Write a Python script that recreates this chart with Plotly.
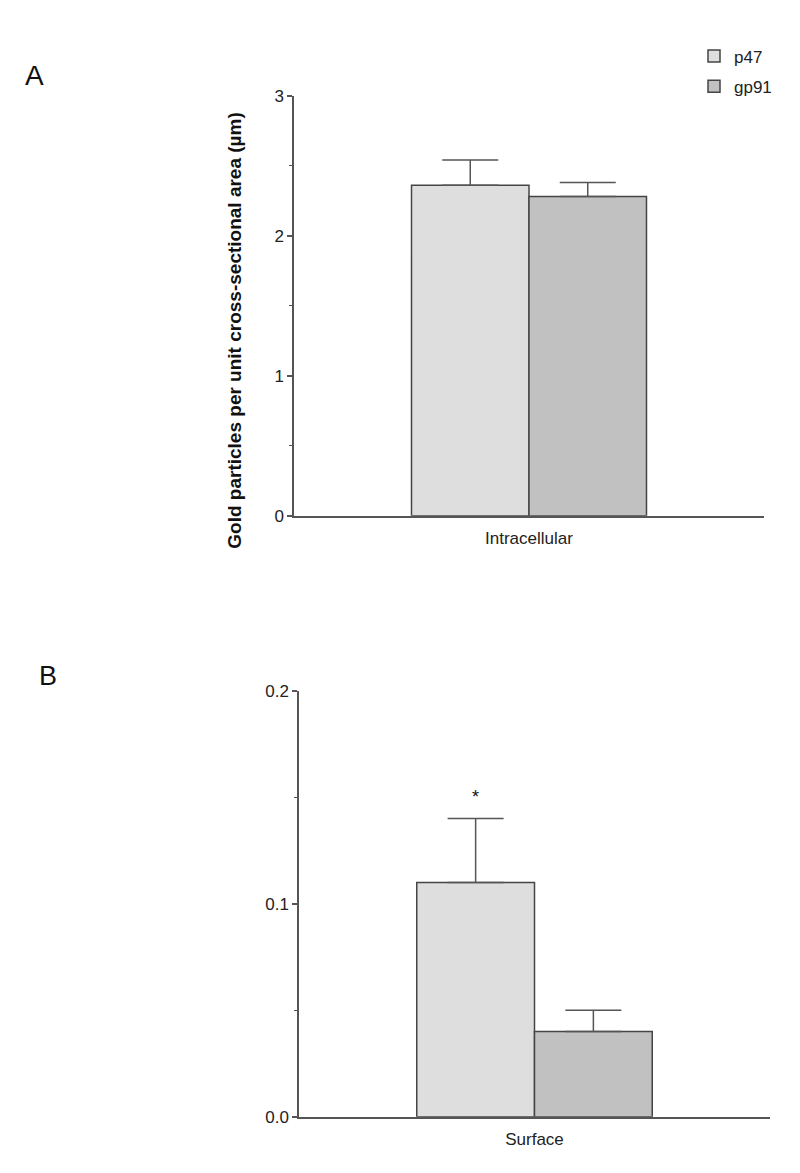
import plotly.graph_objects as go

# panel A - intracellular
cat_a = ["Intracellular"]
p47_a = [2.36]
p47_a_err = [0.18]
gp91_a = [2.28]
gp91_a_err = [0.10]

# panel B - surface
cat_b = ["Surface"]
p47_b = [0.110]
p47_b_err = [0.030]
gp91_b = [0.040]
gp91_b_err = [0.010]

W, H = 800, 1173
col_p47 = "#dedede"
col_gp91 = "#c1c1c1"
edge = "#454545"
axcol = "#555555"


def px_x(v):
    return v / W


def px_y(v):
    return 1 - v / H


fig = go.Figure()

def add_bars(cats, vals, errs, name, color, xa, ya, show):
    fig.add_trace(go.Bar(
        x=cats, y=vals, name=name, legendgroup=name,
        marker=dict(color=color, line=dict(color=edge, width=1.5)),
        error_y=dict(type="data", array=errs, symmetric=False, arrayminus=[0] * len(errs),
                     color="#555555", thickness=1.5, width=28),
        xaxis=xa, yaxis=ya, showlegend=show,
    ))

add_bars(cat_a, p47_a, p47_a_err, "p47", col_p47, "x", "y", True)
add_bars(cat_a, gp91_a, gp91_a_err, "gp91", col_gp91, "x", "y", True)
add_bars(cat_b, p47_b, p47_b_err, "p47", col_p47, "x2", "y2", False)
add_bars(cat_b, gp91_b, gp91_b_err, "gp91", col_gp91, "x2", "y2", False)

font = "Liberation Sans, Arial, sans-serif"

xcommon = dict(type="category", range=[-0.5, 0.5], showline=True, linecolor=axcol, linewidth=1.5,
               ticks="", showgrid=False, zeroline=False, tickfont=dict(size=17, color="#222"),
               ticklabelstandoff=6)
ycommon = dict(showline=True, linecolor=axcol, linewidth=1.5, ticks="outside", ticklen=5,
               tickwidth=1.5, tickcolor=axcol, showgrid=False, zeroline=False,
               tickfont=dict(size=17, color="#222"))

fig.update_layout(
    width=W, height=H,
    margin=dict(l=0, r=0, t=0, b=0),
    paper_bgcolor="white", plot_bgcolor="white",
    font=dict(family=font, color="#222"),
    barmode="group", bargap=0.5, bargroupgap=0,
    xaxis=dict(xcommon, domain=[px_x(294), px_x(764)], anchor="y"),
    yaxis=dict(ycommon, domain=[px_y(515), px_y(88)], range=[0, 3], dtick=1, anchor="x",
               minor=dict(ticks="outside", ticklen=3, dtick=0.5, tickcolor=axcol, tickwidth=1)),
    xaxis2=dict(xcommon, domain=[px_x(299), px_x(770)], anchor="y2"),
    yaxis2=dict(ycommon, domain=[px_y(1126), px_y(693)], range=[0, 0.2], dtick=0.1,
                tickformat=".1f", anchor="x2",
                minor=dict(ticks="outside", ticklen=3, dtick=0.05, tickcolor=axcol, tickwidth=1)),
    legend=dict(x=px_x(694), y=px_y(30), xanchor="left", yanchor="top",
                font=dict(size=17, color="#222"), bgcolor="rgba(0,0,0,0)", tracegroupgap=5),
)

# y title, panel letters and significance star
fig.add_annotation(text="<b>Gold particles per unit cross-sectional area (µm)</b>",
                   x=px_x(235), y=px_y(327), xref="paper", yref="paper", textangle=-90,
                   xanchor="center", yanchor="middle",
                   showarrow=False, font=dict(size=19, color="#111"))
fig.add_annotation(text="A", x=px_x(34), y=px_y(68), xref="paper", yref="paper",
                   xanchor="center", yanchor="middle",
                   showarrow=False, font=dict(size=28, color="#111"))
fig.add_annotation(text="B", x=px_x(48), y=px_y(678), xref="paper", yref="paper",
                   xanchor="center", yanchor="middle",
                   showarrow=False, font=dict(size=27, color="#111"))
fig.add_annotation(text="*", x=cat_b[0], y=0.15, xref="x2", yref="y2", xshift=-59,
                   showarrow=False, font=dict(size=18, color="#111"))

fig.write_html("out.html", config={"displayModeBar": False},
               post_script="document.body.style.margin='0';")
